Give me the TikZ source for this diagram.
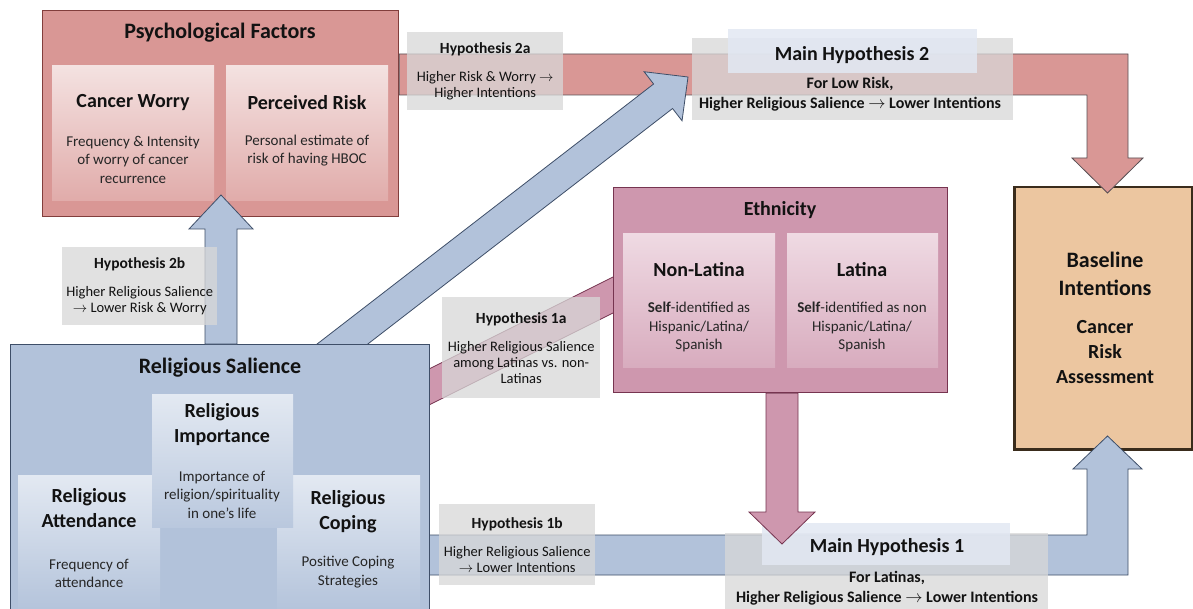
\documentclass[tikz,border=0pt]{standalone}
\usepackage{fontspec}
\setmainfont{Carlito}
\usetikzlibrary{positioning,calc}

\definecolor{psychred}{RGB}{217,151,149}
\definecolor{psychdark}{RGB}{130,62,60}
\definecolor{psychlight}{RGB}{244,226,225}
\definecolor{relblue}{RGB}{178,194,218}
\definecolor{reldark}{RGB}{62,78,104}
\definecolor{rellight}{RGB}{227,233,242}
\definecolor{ethpink}{RGB}{206,151,174}
\definecolor{ethdark}{RGB}{118,52,80}
\definecolor{ethlight}{RGB}{239,218,227}
\definecolor{baseorange}{RGB}{236,198,160}
\definecolor{basedark}{RGB}{58,44,28}
\definecolor{labelgrey}{RGB}{216,216,216}
\definecolor{headblue}{RGB}{226,232,243}
\definecolor{textdark}{RGB}{18,18,18}
\definecolor{textgrey}{RGB}{38,38,38}
\definecolor{arrowedge}{RGB}{88,80,84}

\begin{document}
\begin{tikzpicture}[x=1pt,y=-1pt,
        bigbox/.style={draw, line width=1.3pt, anchor=north west, inner sep=0pt},
        subbox/.style={anchor=north west, inner sep=0pt},
        labelbox/.style={fill=labelgrey, fill opacity=0.75, text opacity=1, text=textdark, align=center, inner sep=0pt, anchor=north west, font=\fontsize{14.5}{16}\selectfont},
        headbox/.style={fill=headblue, fill opacity=0.85, inner sep=0pt, anchor=north west},
        bigtitle/.style={font=\bfseries\fontsize{22}{26}\selectfont, text=textdark},
        subtitle/.style={font=\bfseries\fontsize{20}{25}\selectfont, text=textdark, align=center},
        bodytext/.style={font=\fontsize{15}{18.5}\selectfont, text=textgrey, align=center},
        maintitle/.style={font=\bfseries\fontsize{20}{24}\selectfont, text=textdark},
        maintext/.style={font=\bfseries\fontsize{16}{20}\selectfont, text=textdark, align=center},
        redarrow/.style={fill=psychred, draw=arrowedge, line width=0.8pt},
        bluearrow/.style={fill=relblue, draw=reldark, line width=0.8pt},
        pinkarrow/.style={fill=ethpink, draw=ethdark, line width=0.8pt},
]
        \path[use as bounding box, fill=white] (0,0) rectangle (1193,609);

        % psychological factors
        \node[bigbox, fill=psychred, draw=psychdark, minimum width=356pt, minimum height=206pt] (psych) at (42,10) {};
        \node[subbox, top color=psychlight, bottom color=psychred!80!white, minimum width=162pt, minimum height=135pt] (cworry) at (52,65) {};
        \node[subbox, top color=psychlight, bottom color=psychred!80!white, minimum width=162pt, minimum height=135pt] (prisk) at (226,65) {};
        \node[bigtitle] (psychtitle) at (220,33) {Psychological Factors};
        \node[subtitle] (cworrytitle) at (133,103) {Cancer Worry};
        \node[bodytext] (cworrytext) at (133,159.5) {Frequency \& Intensity\\of worry of cancer\\recurrence};
        \node[subtitle] (prisktitle) at (307,103) {Perceived Risk};
        \node[bodytext] (prisktext) at (307,150.5) {Personal estimate of\\risk of having HBOC};

        % baseline intentions
        \node[bigbox, fill=baseorange, draw=basedark, line width=2.5pt, minimum width=178pt, minimum height=262pt] (baseline) at (1013,186) {};
        \node[font=\bfseries\fontsize{22}{28}\selectfont, text=textdark, align=center] (basetitle) at (1105,274) {Baseline\\Intentions};
        \node[subtitle] (basesub) at (1105,352) {Cancer\\Risk\\Assessment};

        % arrows behind the boxes
        \coordinate (h2start) at ($(psych.north east)+(0,64.5)$);
        \coordinate (h2tip) at (1107.5,193);
        \draw[redarrow] ($(h2start)+(0,-20.5)$) -| ($(h2tip)+(20.5,-35)$) -- ++(15,0) -- (h2tip) -- ++(-35.5,-35) -- ++(15,0) |- ($(h2start)+(0,20.5)$) -- cycle;

        \coordinate (diagtail) at (318.8,362.3);
        \coordinate (diagtip) at (688,77);
        \coordinate (diaghead) at ($(diagtip)!31.5pt!(diagtail)$);
        \draw[bluearrow] ($(diagtail)!15.5pt!90:(diagtip)$) -- ($(diaghead)!15.5pt!90:(diagtip)$) -- ($(diaghead)!31pt!90:(diagtip)$) -- (diagtip)
                -- ($(diaghead)!31pt!-90:(diagtip)$) -- ($(diaghead)!15.5pt!-90:(diagtip)$) -- ($(diagtail)!15.5pt!-90:(diagtip)$) -- cycle;

        \coordinate (band1a) at (415,394);
        \coordinate (band1b) at (625,289);
        \draw[pinkarrow] ($(band1a)+(0,-18)$) -- ($(band1b)+(0,-18)$) -- ($(band1b)+(0,18)$) -- ($(band1a)+(0,18)$) -- cycle;

        \coordinate (h1start) at (415,555);
        \coordinate (h1tip) at (1107.5,436);
        \draw[bluearrow] ($(h1start)+(0,20)$) -| ($(h1tip)+(20.5,33)$) -- ++(14,0) -- (h1tip) -- ++(-34.5,33) -- ++(14,0) |- ($(h1start)+(0,-20)$) -- cycle;

        % religious salience
        \node[bigbox, fill=relblue, draw=reldark, minimum width=419pt, minimum height=280pt] (relsal) at (10,344) {};
        \node[subbox, top color=rellight, bottom color=relblue, minimum width=142pt, minimum height=140pt] (ratt) at (18,475) {};
        \node[subbox, top color=rellight, bottom color=relblue, minimum width=143pt, minimum height=140pt] (rcop) at (277,475) {};
        \node[subbox, top color=rellight, bottom color=relblue!85!rellight, minimum width=141pt, minimum height=133pt] (rimp) at (152,394) {};
        \node[bigtitle] (relsaltitle) at (220,368) {Religious Salience};
        \node[subtitle] (rimptitle) at (222,424.5) {Religious\\Importance};
        \node[bodytext] (rimptext) at (222,494.5) {Importance of\\religion/spirituality\\in one’s life};
        \node[subtitle] (ratttitle) at (89,508.5) {Religious\\Attendance};
        \node[bodytext] (ratttext) at (89,573.5) {Frequency of\\attendance};
        \node[subtitle] (rcoptitle) at (348,511.5) {Religious\\Coping};
        \node[bodytext] (rcoptext) at (348,572) {Positive Coping\\Strategies};

        % ethnicity
        \node[bigbox, fill=ethpink, draw=ethdark, minimum width=334pt, minimum height=205pt] (eth) at (613,187) {};
        \node[subbox, top color=ethlight, bottom color=ethpink!80!white, minimum width=152pt, minimum height=134pt] (nonlat) at (623,233) {};
        \node[subbox, top color=ethlight, bottom color=ethpink!80!white, minimum width=151pt, minimum height=134pt] (lat) at (787,233) {};
        \node[subtitle] (ethtitle) at (780,210) {Ethnicity};
        \node[subtitle] (nonlattitle) at (699,270) {Non-Latina};
        \node[bodytext] (nonlattext) at (699,327) {\textbf{Self}-identified as\\Hispanic/Latina/\\Spanish};
        \node[subtitle] (lattitle) at (862,270) {Latina};
        \node[bodytext] (lattext) at (862,327) {\textbf{Self}-identified as non\\Hispanic/Latina/\\Spanish};

        % religious salience -> psychological factors
        \coordinate (h2bstart) at ($(relsal.north west)+(211,0)$);
        \coordinate (h2btip) at (221,195);
        \draw[bluearrow] ($(h2bstart)+(-16,0)$) -- ($(h2btip)+(-16,34)$) -- ++(-16,0) -- (h2btip) -- ++(32,34) -- ++(-16,0) -- ($(h2bstart)+(16,0)$) -- cycle;

        % hypothesis labels
        \node[labelbox, minimum width=156pt, minimum height=78pt] (hyp2a) at (407,32) {{\bfseries\fontsize{15.5}{16}\selectfont Hypothesis 2a}\\[12pt]Higher Risk \& Worry $\rightarrow$\\Higher Intentions};
        \node[labelbox, minimum width=155pt, minimum height=78pt] (hyp2b) at (62,247) {{\bfseries\fontsize{15.5}{16}\selectfont Hypothesis 2b}\\[12pt]Higher Religious Salience\\$\rightarrow$ Lower Risk \& Worry};
        \node[labelbox, minimum width=158pt, minimum height=101pt] (hyp1a) at (442,297) {{\bfseries\fontsize{15.5}{16}\selectfont Hypothesis 1a}\\[12pt]Higher Religious Salience\\among Latinas vs. non-\\Latinas};
        \node[labelbox, minimum width=156pt, minimum height=81pt] (hyp1b) at (439,504) {{\bfseries\fontsize{15.5}{16}\selectfont Hypothesis 1b}\\[12pt]Higher Religious Salience\\$\rightarrow$ Lower Intentions};

        % main hypotheses
        \node[labelbox, minimum width=321pt, minimum height=82pt] (mainhyp2) at (692,38) {};
        \node[headbox, minimum width=249pt, minimum height=44pt] (mainhyp2head) at (728,29) {};
        \node[maintitle] (mainhyp2title) at (852,55) {Main Hypothesis 2};
        \node[maintext] (mainhyp2text) at (850,94) {For Low Risk,\\Higher Religious Salience $\rightarrow$ Lower Intentions};

        \node[labelbox, minimum width=323pt, minimum height=82pt] (mainhyp1) at (725,533) {};
        \node[headbox, minimum width=248pt, minimum height=42pt] (mainhyp1head) at (762,523) {};
        \node[maintitle] (mainhyp1title) at (887,547) {Main Hypothesis 1};
        \node[maintext] (mainhyp1text) at (887,588) {For Latinas,\\Higher Religious Salience $\rightarrow$ Lower Intentions};

        % ethnicity -> main hypothesis 1
        \coordinate (ethdown) at ($(eth.south west)+(169,0)$);
        \coordinate (ethdowntip) at (782,544);
        \draw[pinkarrow] ($(ethdown)+(-16,0)$) -- ($(ethdowntip)+(-16,-32)$) -- ++(-17,0) -- (ethdowntip) -- ++(33,-32) -- ++(-17,0) -- ($(ethdown)+(16,0)$) -- cycle;
\end{tikzpicture}
\end{document}
